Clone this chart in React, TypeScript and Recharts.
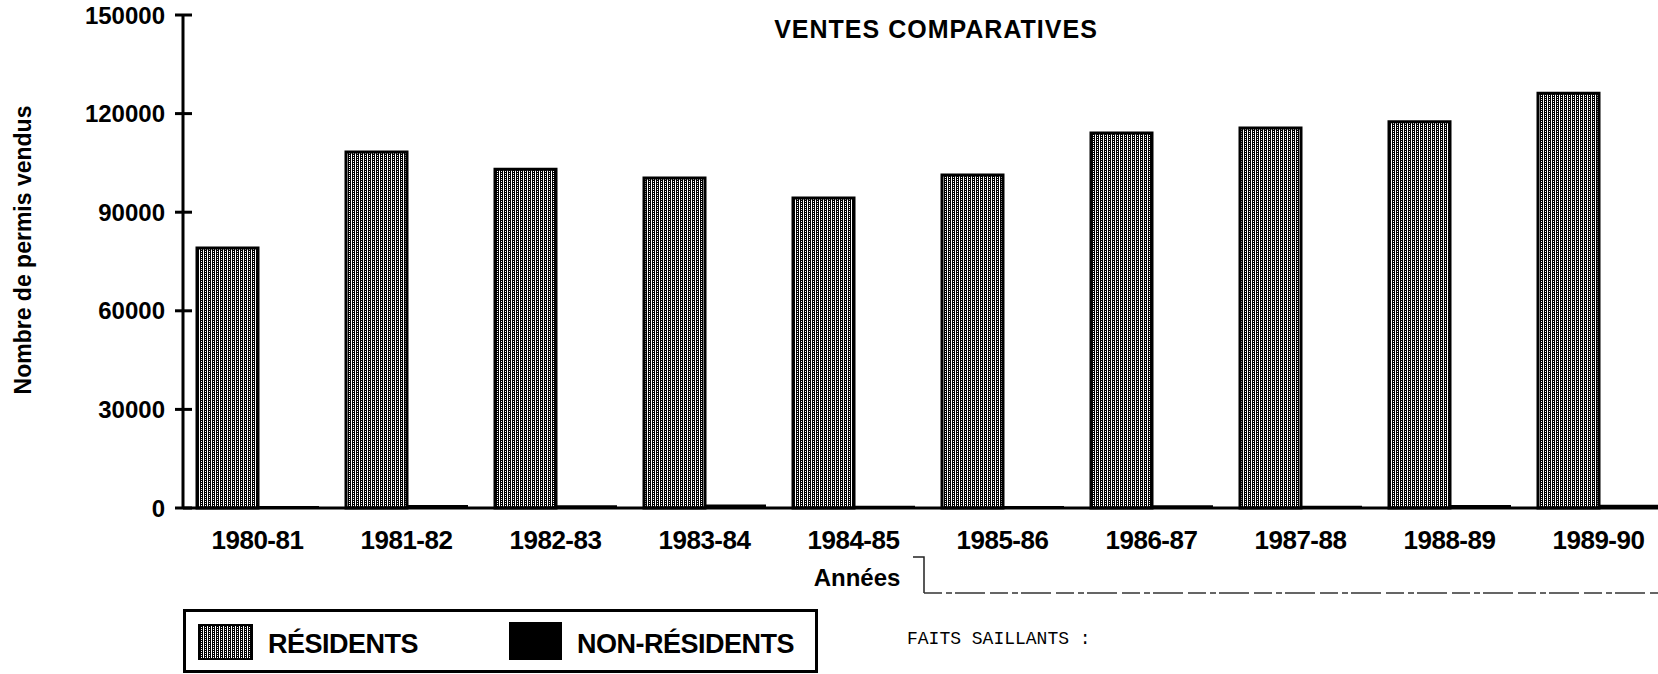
import React from 'react';
import { BarChart, Bar, XAxis, YAxis } from 'recharts';

// Ventes comparatives de permis, 1980-81 à 1989-90
const years = ['1980-81', '1981-82', '1982-83', '1983-84', '1984-85', '1985-86', '1986-87', '1987-88', '1988-89', '1989-90'];
const residents = [79100, 108300, 103100, 100400, 94300, 101300, 114100, 115600, 117500, 126200];
const nonResidents = [600, 900, 800, 1100, 700, 600, 800, 700, 900, 1000];
const yTicks = [0, 30000, 60000, 90000, 120000, 150000];

const data = years.map((annee, i) => ({
  annee,
  residents: residents[i],
  nonResidents: nonResidents[i],
}));

const FONT = '"Liberation Sans", Arial, Helvetica, sans-serif';

function StripePattern({ id }: { id: string }) {
  return (
    <pattern id={id} patternUnits="userSpaceOnUse" width={4} height={2}>
      <rect width={4} height={2} fill="#fff" />
      <rect x={0} width={1} height={2} fill="#000" />
      <rect x={2} width={1} height={2} fill="#000" />
      <rect x={1} y={0} width={1} height={1} fill="#000" />
    </pattern>
  );
}

function YTick(props: any) {
  const { x, y, payload } = props;
  return (
    <g>
      <line x1={x + 18} x2={x + 27} y1={y} y2={y} stroke="#000" strokeWidth={3} />
      <text x={x} y={y} dy="0.36em" textAnchor="end" fontFamily={FONT} fontWeight="bold" fontSize={24} fill="#000">
        {payload.value}
      </text>
    </g>
  );
}

function XTick(props: any) {
  const { x, y, payload } = props;
  return (
    <text x={x} y={y + 41} textAnchor="middle" fontFamily={FONT} fontWeight="bold" fontSize={26} letterSpacing={-0.5} fill="#000">
      {payload.value}
    </text>
  );
}

export default function App() {
  return (
    <div style={{ position: 'absolute', left: 0, top: 0, width: 1658, height: 674, overflow: 'hidden', background: '#fff' }}>
      <BarChart
        width={1700}
        height={674}
        data={data}
        margin={{ top: 15, right: 27, bottom: 0, left: 63 }}
        barGap={0}
      >
        <defs>
          <StripePattern id="residentsFill" />
        </defs>
        <YAxis
          width={120}
          domain={[0, 150000]}
          ticks={yTicks}
          interval={0}
          tickLine={{ stroke: '#000', strokeWidth: 3 }}
          tickSize={8}
          tickMargin={10}
          axisLine={{ stroke: '#000', strokeWidth: 3 }}
          tick={<YTick />}
        />
        <XAxis
          dataKey="annee"
          height={166}
          interval={0}
          tickLine={false}
          tickSize={0}
          tickMargin={0}
          axisLine={{ stroke: '#000', strokeWidth: 3 }}
          tick={<XTick />}
        />
        <Bar dataKey="residents" barSize={61} fill="url(#residentsFill)" stroke="#000" strokeWidth={3} isAnimationActive={false} />
        <Bar dataKey="nonResidents" barSize={61} fill="#000" isAnimationActive={false} />
      </BarChart>

      <svg width={1658} height={674} style={{ position: 'absolute', left: 0, top: 0, pointerEvents: 'none' }}>
        <defs>
          <StripePattern id="legendFill" />
        </defs>
        <text x={936} y={38} textAnchor="middle" fontFamily={FONT} fontWeight="bold" fontSize={25} letterSpacing={1} fill="#000">
          VENTES COMPARATIVES
        </text>
        <text
          x={31}
          y={250}
          transform="rotate(-90, 31, 250)"
          textAnchor="middle"
          fontFamily={FONT}
          fontWeight="bold"
          fontSize={23}
          fill="#000"
        >
          Nombre de permis vendus
        </text>
        <text x={857} y={586} textAnchor="middle" fontFamily={FONT} fontWeight="bold" fontSize={24} fill="#000">
          Années
        </text>
        <path d="M913 557 L924 557 L924 593" fill="none" stroke="#222" strokeWidth={1.5} />
        <line x1={924} y1={593} x2={1658} y2={593} stroke="#333" strokeWidth={1.5} strokeDasharray="18 4 6 3 30 5" />

        <rect x={184.5} y={610.5} width={632} height={61} fill="none" stroke="#000" strokeWidth={3} />
        <rect x={199} y={625} width={53} height={34} fill="url(#legendFill)" stroke="#000" strokeWidth={2} />
        <text x={268} y={653} fontFamily={FONT} fontWeight="bold" fontSize={27} letterSpacing={-0.5} fill="#000">
          RÉSIDENTS
        </text>
        <rect x={509} y={622} width={53} height={38} fill="#000" />
        <text x={577} y={653} fontFamily={FONT} fontWeight="bold" fontSize={27} letterSpacing={-0.5} fill="#000">
          NON-RÉSIDENTS
        </text>

        <text x={907} y={644} fontFamily='"Liberation Mono", "DejaVu Sans Mono", monospace' fontSize={18} fill="#000">
          FAITS SAILLANTS :
        </text>
      </svg>
    </div>
  );
}
